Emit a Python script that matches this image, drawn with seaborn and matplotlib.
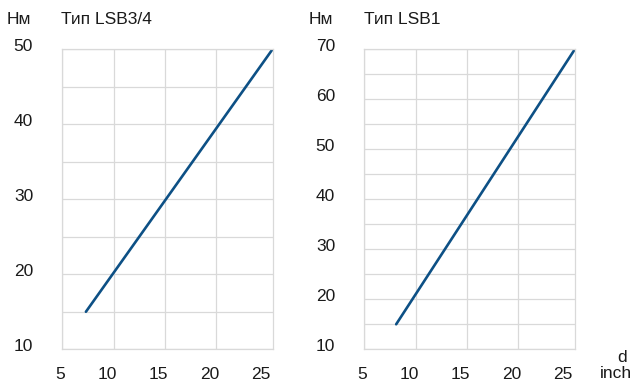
import matplotlib
matplotlib.use("Agg")
import matplotlib.pyplot as plt
import matplotlib.transforms as mtrans
from matplotlib.ticker import FixedLocator, MultipleLocator
import pandas as pd
import seaborn as sns

# torque (Нм) vs diameter d (inch)
lsb34_d = [7.3, 25.5]
lsb34_nm = [15, 50]
lsb1_d = [8.1, 25.5]
lsb1_nm = [15, 70]

x_ticks = [5, 10, 15, 20, 25]
x_grid = [5, 10, 15, 20]
lsb34_yticks = [10, 20, 30, 40, 50]
lsb1_yticks = [10, 20, 30, 40, 50, 60, 70]

LINE = "#0d5085"
GRID = "#d9d9d9"
TEXT = "#1a1a1a"
FS = 12.5

sns.set_style("white")
plt.rcParams["font.family"] = ["Liberation Sans", "DejaVu Sans"]

W, H = 632, 382
fig = plt.figure(figsize=(W / 100, H / 100), dpi=100)


def px(x, y):
    return x / W, 1 - y / H


def draw_panel(rect, d, nm, yticks, title, title_x, unit_x):
    ax = fig.add_axes(rect)
    df = pd.DataFrame({"d": d, "nm": nm})
    sns.lineplot(data=df, x="d", y="nm", ax=ax, color=LINE, linewidth=1.9)
    ax.set_xlim(5, 25.5)
    ax.set_ylim(yticks[0], yticks[-1])
    ax.set_xticks(x_ticks)
    # grid only up to 20, the 25 label sits at the frame
    ax.xaxis.remove_overlapping_locs = False
    ax.xaxis.set_minor_locator(FixedLocator(x_grid))
    ax.set_yticks(yticks)
    ax.yaxis.set_minor_locator(MultipleLocator(5))
    ax.grid(True, axis="x", which="minor", color=GRID, linewidth=0.9)
    ax.grid(False, axis="x", which="major")
    ax.grid(True, axis="y", which="both", color=GRID, linewidth=0.9)
    ax.set_axisbelow(True)
    for sp in ax.spines.values():
        sp.set_color(GRID)
        sp.set_linewidth(0.9)
    ax.tick_params(axis="both", which="both", length=0, labelsize=FS, labelcolor=TEXT)
    ax.tick_params(axis="x", pad=13)
    ax.tick_params(axis="y", pad=21)
    ax.set_xlabel("")
    ax.set_ylabel("")
    for lab in ax.get_xticklabels():
        lab.set_horizontalalignment("right")
        lab.set_transform(lab.get_transform() + mtrans.ScaledTranslation(0.03, 0, fig.dpi_scale_trans))
    for lab in ax.get_yticklabels():
        lab.set_transform(lab.get_transform() + mtrans.ScaledTranslation(0, 0.04, fig.dpi_scale_trans))
    fig.text(*px(unit_x, 20), "Нм", fontsize=FS, color=TEXT, va="center")
    fig.text(*px(title_x, 20), title, fontsize=FS, color=TEXT, va="center")
    return ax


bottom = (H - 349.3) / H
height = (349.3 - 49) / H
draw_panel([62.3 / W, bottom, 210.4 / W, height], lsb34_d, lsb34_nm,
           lsb34_yticks, "Тип LSB3/4", 61, 7)
draw_panel([364.3 / W, bottom, 210.7 / W, height], lsb1_d, lsb1_nm,
           lsb1_yticks, "Тип LSB1", 364.5, 309)

fig.text(*px(622, 358), "d", fontsize=FS, color=TEXT, ha="center", va="center")
fig.text(*px(632, 373), "inch", fontsize=FS, color=TEXT, ha="right", va="center")

fig.savefig("out.png", dpi=100)
